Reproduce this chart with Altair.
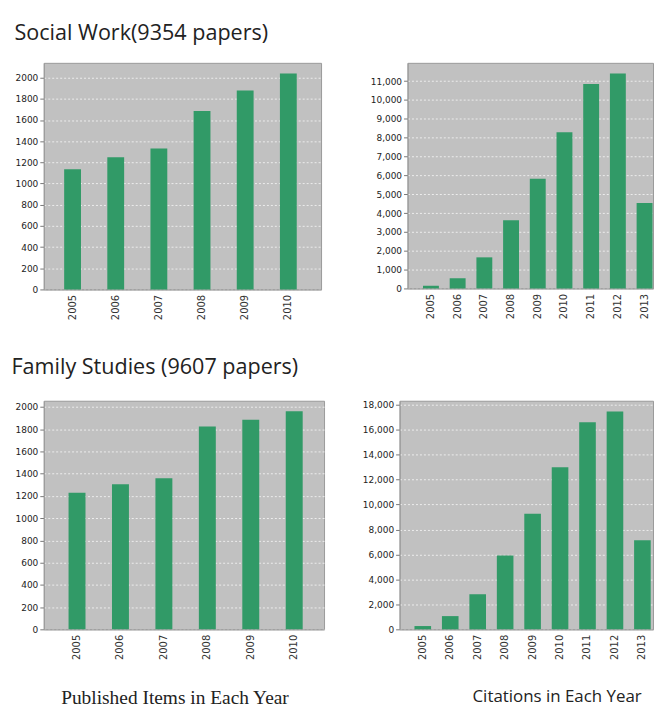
import altair as alt
import pandas as pd

# ---- data ----
pub_years = ["2005", "2006", "2007", "2008", "2009", "2010"]
cit_years = ["2005", "2006", "2007", "2008", "2009", "2010", "2011", "2012", "2013"]

sw_published = [1136, 1249, 1330, 1684, 1878, 2040]
sw_citations = [142, 545, 1650, 3620, 5815, 8292, 10843, 11403, 4533]
fs_published = [1228, 1305, 1359, 1824, 1884, 1961]
fs_citations = [263, 1060, 2812, 5918, 9263, 12982, 16590, 17466, 7144]

pub_ticks = list(range(0, 2001, 200))
sw_cit_ticks = list(range(0, 11001, 1000))
fs_cit_ticks = list(range(0, 18001, 2000))

title_sw = "Social Work(9354 papers)"
title_fs = "Family Studies (9607 papers)"
caption_pub = "Published Items in Each Year"
caption_cit = "Citations in Each Year"

GREEN = "#319a67"
BG = "#c1c1c1"
BORDER = "#9a9a9a"
AXIS_FONT = "DejaVu Sans"


def panel(years, values, ymax, ticks, fmt, width, height,
          p_inner, p_outer, align, yext):
    df = pd.DataFrame({"year": years, "value": values})
    return alt.Chart(df).mark_bar(color=GREEN).encode(
        x=alt.X(
            "year:N", sort=None, title=None,
            scale=alt.Scale(paddingInner=p_inner, paddingOuter=p_outer, align=align),
            axis=alt.Axis(labelAngle=-90, ticks=False, grid=False,
                          labelFont=AXIS_FONT, labelFontSize=10, labelColor="#333",
                          labelPadding=5, domainColor=BORDER,
                          minExtent=30, maxExtent=30),
        ),
        y=alt.Y(
            "value:Q", title=None,
            scale=alt.Scale(domain=[0, ymax], nice=False, zero=True),
            axis=alt.Axis(values=ticks, format=fmt, grid=True,
                          gridColor="#f2f2f2", gridDash=[2, 2], gridWidth=1,
                          gridOpacity=0.9,
                          tickSize=4, tickColor="#777", labelPadding=2,
                          labelFont=AXIS_FONT, labelFontSize=9, labelColor="#222",
                          domainColor=BORDER,
                          minExtent=yext, maxExtent=yext),
        ),
    ).properties(width=width, height=height)


p1 = panel(pub_years, sw_published, 2140, pub_ticks, "d",
           279, 228, 0.61, 0.518, 0.456, 35)
p2 = panel(cit_years, sw_citations, 11970, sw_cit_ticks, ",d",
           247, 227, 0.405, 0.299, 0.969, 50)
p3 = panel(pub_years, fs_published, 2056, pub_ticks, "d",
           282, 230, 0.61, 0.531, 0.537, 35).properties(
    title=alt.Title(caption_pub, orient="bottom", frame="group", anchor="middle",
                    font="Liberation Serif", fontSize=19.5, fontWeight="normal",
                    color="#222", dx=-9, offset=30))
p4 = panel(cit_years, fs_citations, 18319, fs_cit_ticks, ",d",
           255, 230, 0.395, 0.313, 0.867, 50).properties(
    title=alt.Title(caption_cit, orient="bottom", frame="group", anchor="middle",
                    font="Open Sans", fontSize=17, fontWeight="normal",
                    color="#222", dx=31, offset=30))

row1 = alt.hconcat(p1, p2, spacing=35).properties(
    title=alt.Title(title_sw, anchor="start", font="Open Sans", fontSize=21.7,
                    fontWeight="normal", color="#222", dx=6, offset=18))
row2 = alt.hconcat(p3, p4, spacing=24).properties(
    title=alt.Title(title_fs, anchor="start", font="Open Sans", fontSize=21.7,
                    fontWeight="normal", color="#222", dx=3, offset=22))

chart = alt.vconcat(row1, row2, spacing=36).properties(
    padding={"top": 12, "left": 0, "right": 0, "bottom": 0}
).configure_view(
    fill=BG, stroke=BORDER, strokeWidth=1
)

chart.save("out.html", embed_options={"renderer": "svg", "actions": False})
